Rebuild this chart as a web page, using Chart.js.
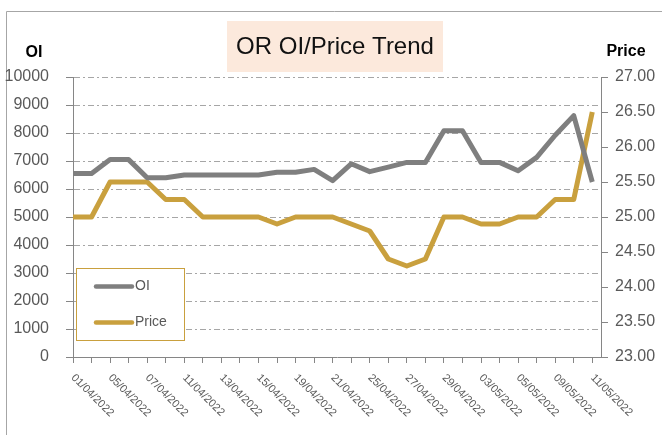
<!DOCTYPE html>
<html>
<head>
<meta charset="utf-8">
<script src="https://cdn.jsdelivr.net/npm/chart.js@4"></script>
<style>
  html, body { margin: 0; padding: 0; background: #fff; }
  canvas { display: block; }
</style>
</head>
<body>
<canvas id="trend" width="662" height="435"></canvas>
<script>
// OR OI / Price trend

const dates = ['01/04/2022', '04/04/2022', '05/04/2022', '06/04/2022', '07/04/2022', '08/04/2022',
    '11/04/2022', '12/04/2022', '13/04/2022', '14/04/2022', '15/04/2022',
    '18/04/2022', '19/04/2022', '20/04/2022', '21/04/2022', '22/04/2022',
    '25/04/2022', '26/04/2022', '27/04/2022', '28/04/2022', '29/04/2022',
    '02/05/2022', '03/05/2022', '04/05/2022', '05/05/2022', '06/05/2022',
    '09/05/2022', '10/05/2022', '11/05/2022'];

const oiValues = [6550, 6550, 7050, 7050, 6400, 6400, 6500, 6500, 6500, 6500, 6500,
    6600, 6600, 6700, 6300, 6900, 6620, 6780, 6950, 6950, 8080,
    8080, 6950, 6950, 6650, 7130, 7920, 8620, 6250];

const priceValues = [25.00, 25.00, 25.50, 25.50, 25.50, 25.25, 25.25, 25.00, 25.00, 25.00, 25.00,
    24.90, 25.00, 25.00, 25.00, 24.90, 24.80, 24.40, 24.30, 24.40, 25.00,
    25.00, 24.90, 24.90, 25.00, 25.00, 25.25, 25.25, 26.50];

const oiTicks = [0, 10000, 1000];      // min, max, step
const priceTicks = [23, 27, 0.5];

const GRAY = '#7f7f7f';
const GOLD = '#c9a03e';
const AXIS = '#868686';
const LABEL = '#595959';
const FONT = "'Liberation Sans', Arial, sans-serif";

// title, frame, axis titles, date labels and legend
const decorPlugin = {
    id: 'decor',
    beforeDraw(chart) {
        const ctx = chart.ctx;
        ctx.save();
        ctx.strokeStyle = '#a6a6a6';
        ctx.lineWidth = 1;
        ctx.beginPath();
        ctx.moveTo(6.5, 435);
        ctx.lineTo(6.5, 11.5);
        ctx.lineTo(662, 11.5);
        ctx.stroke();

        ctx.fillStyle = '#fce9dc';
        ctx.fillRect(227, 21, 216, 51);
        ctx.fillStyle = '#111';
        ctx.font = '24px ' + FONT;
        ctx.textAlign = 'center';
        ctx.textBaseline = 'middle';
        ctx.fillText('OR OI/Price Trend', 335, 47);

        ctx.font = 'bold 16px ' + FONT;
        ctx.fillStyle = '#000';
        ctx.fillText('OI', 34, 53);
        ctx.fillText('Price', 626, 52);
        ctx.restore();
    },
    afterDraw(chart) {
        const ctx = chart.ctx;
        const xs = chart.scales.x;
        ctx.save();
        // rotated date labels, every second trading day
        ctx.font = '11px ' + FONT;
        ctx.fillStyle = LABEL;
        ctx.textAlign = 'left';
        ctx.textBaseline = 'middle';
        dates.forEach((d, i) => {
            if (i % 2) return;
            const x = xs.getPixelForValue(i);
            ctx.save();
            ctx.translate(x, 376);
            ctx.rotate(Math.PI / 4);
            ctx.fillText(d, 0, 0);
            ctx.restore();
        });

        // legend box
        ctx.fillStyle = '#fff';
        ctx.fillRect(76.5, 268.5, 108, 72);
        ctx.strokeStyle = GOLD;
        ctx.lineWidth = 1;
        ctx.strokeRect(76.5, 268.5, 108, 72);
        const rows = [286.5, 322.5];
        chart.data.datasets.forEach((ds, i) => {
            ctx.strokeStyle = ds.borderColor;
            ctx.lineWidth = 4.5;
            ctx.lineCap = 'round';
            ctx.beginPath();
            ctx.moveTo(96, rows[i]);
            ctx.lineTo(132, rows[i]);
            ctx.stroke();
            ctx.fillStyle = LABEL;
            ctx.font = '14px ' + FONT;
            ctx.fillText(ds.label, 135, rows[i]);
        });
        ctx.restore();
    }
};

const ctx = document.getElementById('trend').getContext('2d');

new Chart(ctx, {
    type: 'line',
    data: {
        datasets: [
            {
                label: 'OI',
                data: oiValues.map((v, i) => ({ x: i, y: v })),
                borderColor: GRAY,
                borderWidth: 5,
                pointRadius: 0,
                tension: 0,
                borderJoinStyle: 'round',
                yAxisID: 'y'
            },
            {
                label: 'Price',
                data: priceValues.map((v, i) => ({ x: i, y: v })),
                borderColor: GOLD,
                borderWidth: 5,
                pointRadius: 0,
                tension: 0,
                borderJoinStyle: 'round',
                yAxisID: 'y1'
            }
        ]
    },
    options: {
        responsive: false,
        animation: false,
        layout: { padding: { top: 77, left: 0, right: 0, bottom: 0 } },
        plugins: {
            legend: { display: false },
            tooltip: { enabled: false },
            title: { display: false }
        },
        scales: {
            x: {
                type: 'linear',
                min: 0,
                max: 28.47,
                afterFit: s => { s.height = 78; },
                ticks: { display: false, stepSize: 1, includeBounds: false },
                grid: {
                    drawOnChartArea: false,
                    drawTicks: true,
                    tickLength: 6,
                    tickColor: AXIS
                },
                border: { display: true, color: AXIS, width: 1 }
            },
            y: {
                type: 'linear',
                position: 'left',
                min: oiTicks[0],
                max: oiTicks[1],
                afterFit: s => { s.width = 73; },
                ticks: {
                    stepSize: oiTicks[2],
                    padding: 17,
                    color: LABEL,
                    font: { family: FONT, size: 16 },
                    callback: v => v
                },
                grid: {
                    display: true,
                    drawOnChartArea: true,
                    color: '#a6a6a6',
                    lineWidth: 1,
                    tickBorderDash: [],
                    tickColor: AXIS,
                    tickLength: 7
                },
                border: { display: true, color: AXIS, width: 1, dash: [6, 3, 2, 3] }
            },
            y1: {
                type: 'linear',
                position: 'right',
                min: priceTicks[0],
                max: priceTicks[1],
                afterFit: s => { s.width = 61; },
                ticks: {
                    stepSize: priceTicks[2],
                    padding: 7,
                    color: LABEL,
                    font: { family: FONT, size: 16 },
                    callback: v => v.toFixed(2)
                },
                grid: {
                    drawOnChartArea: false,
                    tickColor: AXIS,
                    tickLength: 7
                },
                border: { display: true, color: AXIS, width: 1 }
            }
        }
    },
    plugins: [decorPlugin]
});
</script>
</body>
</html>
